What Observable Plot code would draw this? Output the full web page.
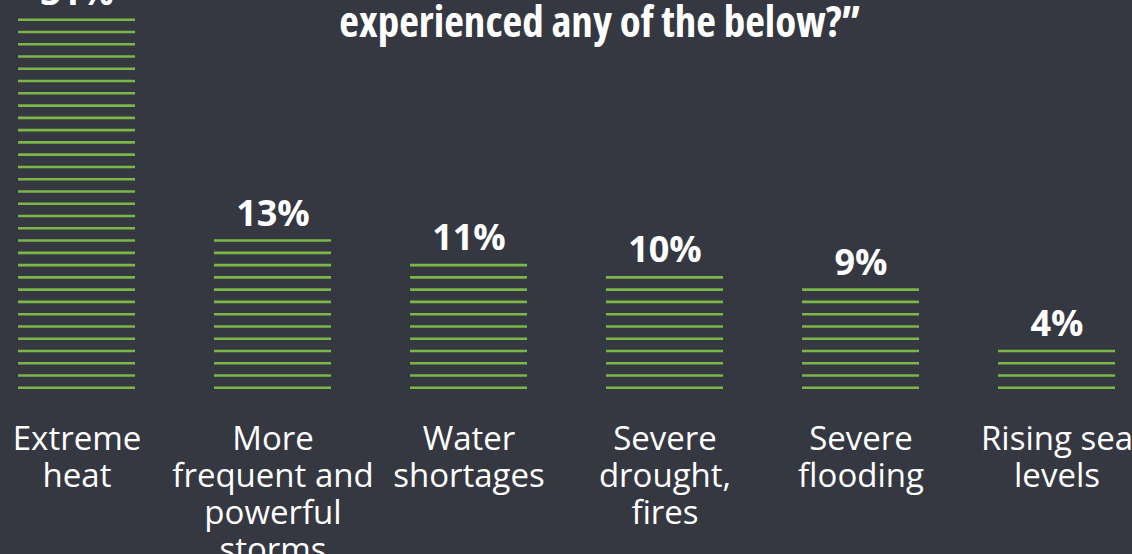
<!DOCTYPE html>
<html>
<head>
<meta charset="utf-8">
<script src="https://cdn.jsdelivr.net/npm/d3@7"></script>
<script src="https://cdn.jsdelivr.net/npm/@observablehq/plot@0.6"></script>
<style>
  html, body { margin: 0; padding: 0; background: #353841; overflow: hidden; width: 1132px; height: 554px; }
  #wrap { position: relative; width: 1132px; height: 554px; overflow: hidden; }
  #chart { position: absolute; left: 0; top: -40px; }
  #title { position: absolute; left: 600px; top: -4px; transform: translateX(-50%); white-space: nowrap;
           color: #ffffff; font-family: "Open Sans", "Liberation Sans Narrow", sans-serif; font-stretch: 75%;
           font-weight: 700; font-size: 43px; line-height: 50px; text-align: center; }
  #chart text.cat { letter-spacing: 0.3px; }
</style>
</head>
<body>
<div id="wrap">
  <div id="chart"></div>
  <div id="title">experienced any of the below?”</div>
</div>
<script>
const categories = ["Extreme heat", "More frequent and powerful storms", "Water shortages", "Severe drought, fires", "Severe flooding", "Rising sea levels"];
const categoryLabels = ["Extreme\nheat", "More\nfrequent and\npowerful\nstorms", "Water\nshortages", "Severe\ndrought,\nfires", "Severe\nflooding", "Rising sea\nlevels"];
const values = [31, 13, 11, 10, 9, 4];
const valueLabels = ["31%", "13%", "11%", "10%", "9%", "4%"];

const bars = categories.map((c, i) => ({category: c, label: categoryLabels[i], value: values[i], text: valueLabels[i]}));
const units = bars.flatMap(b => d3.range(1, b.value + 1).map(k => ({category: b.category, unit: k})));

const H = 594;
const chart = Plot.plot({
  width: 1132,
  height: H,
  marginTop: 0,
  marginLeft: 0,
  marginRight: 0,
  marginBottom: 131,
  style: {background: "transparent", overflow: "visible"},
  x: {domain: categories, paddingInner: 0.401, paddingOuter: 0, range: [15, 1118], axis: null},
  y: {domain: [1, 31], range: [427.3, 59.2], axis: null},
  marks: [
    Plot.tickY(units, {x: "category", y: "unit", stroke: "#7ab648", strokeWidth: 2.6}),
    Plot.text(bars, {x: "category", y: "value", text: "text", dy: -15, lineAnchor: "bottom",
      fill: "#ffffff", fontSize: 36, fontWeight: 700, fontFamily: "Open Sans"}),
    Plot.text(bars, {x: "category", text: "label", frameAnchor: "bottom", lineAnchor: "top",
      lineHeight: 1.12, fill: "#ffffff", fontSize: 33, fontFamily: "Open Sans", className: "cat"})
  ]
});
document.getElementById("chart").appendChild(chart);
</script>
</body>
</html>
